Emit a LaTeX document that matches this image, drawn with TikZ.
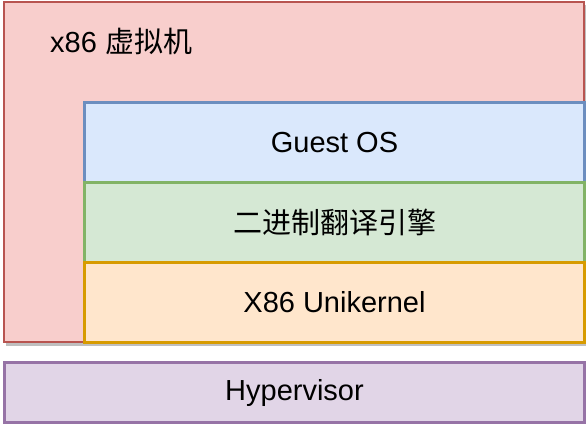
\documentclass[tikz,border=0pt]{standalone}
\usepackage{fontspec}
\setmainfont{Liberation Sans}
\newfontfamily\cjk{Noto Sans CJK SC}
\definecolor{pinkF}{HTML}{F8CECC}\definecolor{pinkS}{HTML}{B85450}
\definecolor{blueF}{HTML}{DAE8FC}\definecolor{blueS}{HTML}{6C8EBF}
\definecolor{greenF}{HTML}{D5E8D4}\definecolor{greenS}{HTML}{82B366}
\definecolor{orangeF}{HTML}{FFE6CC}\definecolor{orangeS}{HTML}{D79B00}
\definecolor{purpleF}{HTML}{E1D5E7}\definecolor{purpleS}{HTML}{9673A6}
\definecolor{shadowC}{HTML}{BFBFBF}
\begin{document}
\begin{tikzpicture}[x=1pt,y=-1pt,
  lbl/.style={font=\fontsize{29}{34}\selectfont, text=black},
  layer/.style={draw, line width=3pt, minimum width=500pt, minimum height=80pt, inner sep=0pt, anchor=north west, lbl}]
\useasboundingbox (0,0) rectangle (588,424);
% shadow
\fill[shadowC] (6,5) rectangle (586,346);
% outer VM box
\node[draw=pinkS, fill=pinkF, line width=2pt, minimum width=580pt, minimum height=340pt, inner sep=0pt, anchor=north west] (vm) at (3,1) {};
\node[lbl, anchor=west, inner sep=0pt] (vmlabel) at (50,41) {x86 {\cjk 虚拟机}};
\node[layer, draw=blueS, fill=blueF] (guest) at (83,101) {Guest OS};
\node[layer, draw=greenS, fill=greenF] (bt) at (83,181) {\cjk 二进制翻译引擎};
\node[layer, draw=orangeS, fill=orangeF] (uk) at (83,261) {X86 Unikernel};
\node[layer, draw=purpleS, fill=purpleF, minimum width=580pt, minimum height=60pt] (hv) at (3,361) {Hypervisor};
\end{tikzpicture}
\end{document}
